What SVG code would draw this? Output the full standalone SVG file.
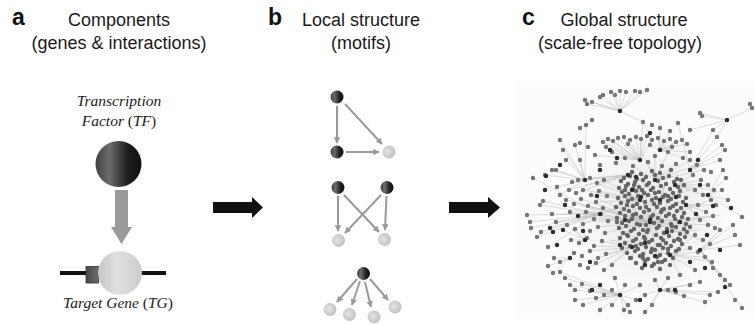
<svg xmlns="http://www.w3.org/2000/svg" width="755" height="325" viewBox="0 0 755 325">
  <style>
    .title { font-family: "Liberation Sans", Arial, Helvetica, sans-serif; font-size: 18px; fill: #1a1a1a; }
    .letter { font-family: "Liberation Sans", Arial, Helvetica, sans-serif; font-size: 23px; font-weight: bold; fill: #111; }
    .lbl { font-family: "Liberation Serif", "Times New Roman", serif; font-size: 15.5px; font-style: italic; fill: #1a1a1a; }
    .up { font-style: normal; }
    .motif-edge { stroke: #9a9a9a; stroke-width: 2; fill: none; marker-end: url(#tip); }
    .big-arrow { fill: #111; }
    .net-edge { stroke: #b8b8b8; stroke-width: 0.6; fill: none; opacity: 0.8; }
    .net-dot { stroke: #767676; stroke-width: 4.4; stroke-linecap: round; fill: none; }
    .net-core { stroke: #666; stroke-width: 4.4; stroke-linecap: round; fill: none; }
    .net-hub { stroke: #2e2e2e; stroke-width: 4.5; stroke-linecap: round; fill: none; }
  </style>
  <defs>
    <linearGradient id="darkSphere" x1="0" y1="0" x2="1" y2="0">
      <stop offset="0" stop-color="#404040"/>
      <stop offset="0.3" stop-color="#6c6c6c"/>
      <stop offset="0.7" stop-color="#1e1e1e"/>
      <stop offset="1" stop-color="#101010"/>
    </linearGradient>
    <radialGradient id="lightSphere" cx="0.4" cy="0.45" r="0.65">
      <stop offset="0" stop-color="#e4e4e4"/>
      <stop offset="1" stop-color="#bdbdbd"/>
    </radialGradient>
    <linearGradient id="geneSphere" x1="0" y1="0" x2="1" y2="0">
      <stop offset="0" stop-color="#c6c6c6"/>
      <stop offset="0.45" stop-color="#e0e0e0"/>
      <stop offset="1" stop-color="#cbcbcb"/>
    </linearGradient>
    <linearGradient id="siteBox" x1="0" y1="0" x2="1" y2="0">
      <stop offset="0" stop-color="#4a4a4a"/>
      <stop offset="1" stop-color="#6a6a6a"/>
    </linearGradient>
    <radialGradient id="coreHaze" cx="0.5" cy="0.5" r="0.5">
      <stop offset="0" stop-color="#d0d0d0" stop-opacity="0.55"/>
      <stop offset="1" stop-color="#d0d0d0" stop-opacity="0"/>
    </radialGradient>
    <marker id="tip" viewBox="0 0 10 10" refX="9" refY="5" markerWidth="3.2" markerHeight="3.2" orient="auto" markerUnits="strokeWidth">
      <path d="M0 0L10 5L0 10z" fill="#9a9a9a"/>
    </marker>
    <filter id="soft" x="-5%" y="-5%" width="110%" height="110%">
      <feGaussianBlur stdDeviation="0.45"/>
    </filter>
  </defs>

  <rect width="755" height="325" fill="#fff"/>

  <!-- headings -->
  <g id="headings">
    <text class="letter" x="12" y="25">a</text>
    <text class="title" x="119" y="26" text-anchor="middle">Components</text>
    <text class="title" x="119" y="49" text-anchor="middle">(genes &amp; interactions)</text>
    <text class="letter" x="268" y="25">b</text>
    <text class="title" x="361" y="26" text-anchor="middle">Local structure</text>
    <text class="title" x="361" y="49" text-anchor="middle">(motifs)</text>
    <text class="letter" x="522" y="25">c</text>
    <text class="title" x="624" y="26" text-anchor="middle">Global structure</text>
    <text class="title" x="620" y="49" text-anchor="middle">(scale-free topology)</text>
  </g>

  <!-- panel a: transcription factor regulating a target gene -->
  <g id="tf">
    <text class="lbl" x="119" y="106" text-anchor="middle">Transcription</text>
    <text class="lbl" x="119" y="126" text-anchor="middle">Factor <tspan class="up">(</tspan>TF<tspan class="up">)</tspan></text>
    <circle cx="118.5" cy="164" r="23" fill="url(#darkSphere)"/>
  </g>
  <g id="tg">
    <line x1="60" y1="273" x2="166" y2="273" stroke="#111" stroke-width="4"/>
    <rect x="86" y="266.5" width="12.5" height="16.5" fill="url(#siteBox)" stroke="#333" stroke-width="0.8"/>
    <circle cx="120" cy="273" r="22" fill="url(#geneSphere)"/>
    <text class="lbl" x="118" y="308" text-anchor="middle">Target Gene <tspan class="up">(</tspan>TG<tspan class="up">)</tspan></text>
  </g>

  <!-- panel b: motif nodes -->
  <g id="ffl-top"><circle cx="337" cy="97" r="6.5" fill="url(#darkSphere)"/></g>
  <g id="ffl-mid"><circle cx="337" cy="152" r="6.5" fill="url(#darkSphere)"/></g>
  <g id="ffl-out"><circle cx="389" cy="152" r="6.5" fill="url(#lightSphere)"/></g>
  <g id="bifan-a"><circle cx="338" cy="187.5" r="6.5" fill="url(#darkSphere)"/></g>
  <g id="bifan-b"><circle cx="387" cy="187.5" r="6.5" fill="url(#darkSphere)"/></g>
  <g id="bifan-c"><circle cx="338.5" cy="240.5" r="6.5" fill="url(#lightSphere)"/></g>
  <g id="bifan-d"><circle cx="384.5" cy="239.5" r="6.5" fill="url(#lightSphere)"/></g>
  <g id="sim-hub"><circle cx="363.5" cy="273.5" r="6.5" fill="url(#darkSphere)"/></g>
  <g id="sim-1"><circle cx="330" cy="309.5" r="6.5" fill="url(#lightSphere)"/></g>
  <g id="sim-2"><circle cx="349.5" cy="314.5" r="6.5" fill="url(#lightSphere)"/></g>
  <g id="sim-3"><circle cx="374" cy="317" r="6.5" fill="url(#lightSphere)"/></g>
  <g id="sim-4"><circle cx="395" cy="307" r="6.5" fill="url(#lightSphere)"/></g>

  <!-- connectors -->
  <g id="connectors">
    <!-- TF regulates TG -->
    <path d="M115 190H128V227H132L121.5 244L111 227H115Z" fill="#9a9a9a"/>
    <!-- feed-forward loop -->
    <line class="motif-edge" x1="337" y1="106" x2="337" y2="143"/>
    <line class="motif-edge" x1="345" y1="104" x2="382" y2="144"/>
    <line class="motif-edge" x1="346" y1="152" x2="379" y2="152"/>
    <!-- bi-fan -->
    <line class="motif-edge" x1="338" y1="196" x2="338" y2="231"/>
    <line class="motif-edge" x1="386.5" y1="196" x2="385" y2="230"/>
    <line class="motif-edge" x1="344" y1="195" x2="379" y2="232"/>
    <line class="motif-edge" x1="381" y1="195" x2="345" y2="233"/>
    <!-- single input module -->
    <line class="motif-edge" x1="357" y1="279" x2="337" y2="302"/>
    <line class="motif-edge" x1="360" y1="281" x2="352" y2="305"/>
    <line class="motif-edge" x1="365" y1="282" x2="371" y2="307"/>
    <line class="motif-edge" x1="370" y1="279" x2="388" y2="300"/>
    <!-- step arrows between panels -->
    <path class="big-arrow" d="M213 202H252V197L263 207.5L252 218V213H213Z"/>
    <path class="big-arrow" d="M449 202H488V197L500 207.5L488 218V213H449Z"/>
  </g>

  <!-- panel c: genome-scale regulatory network -->
  <g id="network">
    <rect x="515" y="86" width="240" height="232" fill="#fcfcfc"/>
    <ellipse cx="650" cy="215" rx="80" ry="85" fill="url(#coreHaze)"/>
    <g filter="url(#soft)">
      <path class="net-edge" d="
        M620 111L585 100M620 111L587 104M620 111L592 102M620 111L600 97M620 111L603 95M620 111L611 92M620 111L615 95M620 111L620 91M620 111L626 92M620 111L635 91M620 111L640 92M620 111L647 90
        M620 111L643 122L652 140M643 122L640 160
        M727 120L700 113M727 120L752 108M727 120L713 130M727 120L717 137M727 120L690 130M727 120L702 116M752 108L750 104
        M585 180L545 175M585 180L552 170M585 180L556 170M585 180L560 140M585 180L563 150M585 180L575 145M585 180L566 160M585 180L580 160M585 180L557 187M585 180L560 195M585 180L586 125L580 128M586 125L592 120
        M600 214L527 215M600 214L530 222M600 214L531 228M600 214L533 178M600 214L540 205M600 214L543 201M600 214L537 237M600 214L552 214M600 214L556 222M600 214L548 228M600 214L541 232M600 214L548 247
        M640 160L603 142M640 160L608 139M640 160L613 141M640 160L618 138M640 160L624 137M640 160L630 140M640 160L636 137M640 160L641 139M640 160L647 136M640 160L652 140M640 160L606 147M640 160L628 144M640 160L595 155M640 160L612 152M640 160L625 158
        M660 150L658 138M660 150L664 141M660 150L670 139M660 150L676 142M660 150L682 140M660 150L687 144M660 150L650 145M660 150L672 147M660 150L668 152M660 150L683 158M660 150L690 152M660 150L660 128M660 150L670 131
        M690 170L722 145M690 170L725 150M690 170L720 160M690 170L717 137M690 170L713 130M690 170L678 123
        M708 195L723 170M708 195L726 178M708 195L722 190M708 195L728 200M708 195L742 217
        M700 250L733 225M700 250L740 245M700 250L720 230M700 250L735 235M700 250L713 268M700 250L720 275M700 250L725 280M700 250L742 308M700 250L730 285
        M660 290L645 295M660 290L652 305M660 290L668 290M660 290L676 292M660 290L684 296M660 290L690 285M660 290L655 280M660 290L668 278M660 290L645 312M660 290L700 282M660 290L718 292M660 290L710 295M660 290L705 302
        M620 295L560 272M620 295L565 278M620 295L570 285M620 295L575 290M620 295L582 284M620 295L590 291M620 295L596 298M620 295L604 295M620 295L612 290M620 295L628 305M620 295L636 300M620 295L600 310M620 295L612 305M620 295L624 310M620 295L630 312M620 295L575 300M620 295L583 305M620 295L640 285M620 295L625 285M620 295L615 278
        M570 258L548 266M570 258L553 273M570 258L554 258M570 258L560 262
        M650 222L621 181M650 222L643 180M650 222L666 184M650 222L684 185M650 222L618 198M650 222L686 198M650 222L616 207M650 222L688 219M650 222L619 228M650 222L690 227M650 222L623 233M650 222L687 232M650 222L625 243M650 222L682 244M650 222L631 258M650 222L673 258M650 222L642 268M650 222L660 269M650 222L632 172M650 222L671 170M650 222L590 195M650 222L605 233M650 222L603 208M650 222L598 227M650 222L711 200M650 222L713 216M650 222L708 225M650 222L703 240
        M640 200L608 221M640 200L601 214M640 200L597 183M640 200L604 180M640 200L599 191M640 200L596 202M640 200L583 190M640 200L591 195
        M655 180L640 150M655 180L655 156M655 180L668 152M655 180L633 166M655 180L648 162M655 180L662 166M655 180L676 164M655 180L690 160M655 180L697 165M655 180L704 170
        M632 247L594 246M632 247L602 241M632 247L598 258M632 247L606 254M632 247L590 251M632 247L604 270M632 247L612 265M632 247L588 268
        M670 255L690 248M670 255L698 252M670 255L705 257M670 255L712 262M670 255L695 235M670 255L695 270M670 255L680 275
        M585 240L571 240M585 240L579 243M585 240L567 225M585 240L575 229M585 240L583 224M585 240L563 230
        M675 185L693 175M675 185L701 180M675 185L708 185M675 185L714 190M675 185L695 190M675 185L703 195
        M628 175L572 182M628 175L578 180M628 175L585 185M628 175L590 178M628 175L569 190M628 175L576 193
        M686 205L698 205M686 205L706 212M686 205L700 220M686 205L715 228M686 205L716 205
        M650 222L566 200M650 222L574 204M650 222L581 199M650 222L588 206M650 222L570 212M650 222L578 216M650 222L586 212M650 222L594 219
        M660 200L625 185M660 200L690 190M660 200L632 210M645 243L610 240M645 243L680 262M667 232L700 230M625 220L585 222M680 222L720 215
      "/>
      <path class="net-dot" d="
        M585 100h0M587 104h0M592 102h0M600 97h0M603 95h0M611 92h0M615 95h0M620 91h0M626 92h0M635 91h0M640 92h0M647 90h0
        M643 122h0M652 125h0M660 128h0M670 131h0M678 123h0M690 130h0M700 113h0M702 116h0M713 130h0M717 137h0M752 108h0M750 104h0
        M722 145h0M725 150h0M720 160h0M723 170h0M726 178h0M722 190h0M728 200h0M742 217h0M733 225h0M740 245h0M720 230h0M735 235h0
        M713 268h0M720 275h0M725 280h0M730 285h0M718 292h0M710 295h0M705 302h0M742 308h0M735 300h0M700 282h0
        M560 272h0M565 278h0M570 285h0M575 290h0M582 284h0M590 291h0M596 298h0M604 295h0M612 290h0M628 305h0M636 300h0M645 295h0M652 305h0M668 290h0M676 292h0M684 296h0M690 285h0M640 285h0M625 285h0M615 278h0M655 280h0M668 278h0M680 275h0M695 270h0M548 266h0M553 273h0M575 300h0M583 305h0M600 310h0M612 305h0M624 310h0M630 312h0M645 312h0
        M527 215h0M530 222h0M531 228h0M533 178h0M540 205h0M543 201h0M537 237h0M545 175h0M552 170h0M556 170h0M548 247h0M554 258h0M560 262h0M557 187h0M560 195h0M552 214h0M556 222h0M541 232h0
        M560 140h0M563 150h0M575 145h0M580 143h0M566 160h0M580 160h0M588 147h0M586 125h0M580 128h0M592 120h0
        M603 142h0M608 139h0M613 141h0M618 138h0M624 137h0M630 140h0M636 137h0M641 139h0M647 136h0M652 140h0M658 138h0M664 141h0M670 139h0M676 142h0M682 140h0M687 144h0M606 147h0M628 144h0M650 145h0M672 147h0
        M595 155h0M612 152h0M625 158h0M655 156h0M668 152h0M683 158h0M600 165h0M616 163h0M633 166h0M648 162h0M662 166h0M676 164h0M690 152h0
        M572 182h0M578 180h0M590 178h0M597 183h0M604 180h0M569 190h0M576 193h0M583 190h0M591 195h0M599 191h0M607 196h0M566 200h0M574 204h0M581 199h0M588 206h0M596 202h0M603 208h0M570 212h0M586 212h0M594 219h0M601 214h0M608 221h0M567 225h0M575 229h0M583 224h0M590 231h0M598 227h0M605 233h0M571 240h0M579 243h0M587 238h0M594 246h0M602 241h0M574 253h0M582 256h0M590 251h0M598 258h0M606 254h0M580 265h0M588 268h0M596 263h0M604 270h0M612 265h0
        M690 160h0M697 165h0M704 170h0M711 172h0M693 175h0M701 180h0M708 185h0M714 190h0M695 190h0M703 195h0M711 200h0M716 205h0M698 205h0M706 212h0M713 216h0M700 220h0M708 225h0M715 228h0M695 235h0M703 240h0M710 244h0M690 248h0M698 252h0M705 257h0M712 262h0
      "/>
      <path class="net-core" d="
        M632 172h0M641 174h0M652 171h0M660 173h0M671 170h0
        M624 178h0M630 176h0M637 179h0M646 177h0M655 175h0M663 178h0M669 176h0M677 179h0
        M621 181h0M628 184h0M635 182h0M643 180h0M649 183h0M658 181h0M666 184h0M674 182h0M681 180h0
        M619 188h0M626 186h0M633 189h0M639 187h0M647 185h0M653 188h0M661 186h0M670 189h0M678 187h0M684 185h0
        M622 192h0M629 194h0M636 191h0M644 193h0M651 190h0M659 192h0M665 195h0M673 193h0M680 191h0
        M618 198h0M625 196h0M632 199h0M648 195h0M656 198h0M663 197h0M671 199h0M679 196h0M686 198h0
        M621 203h0M628 201h0M637 204h0M645 202h0M652 200h0M660 203h0M668 201h0M676 204h0M683 202h0
        M616 207h0M624 209h0M633 206h0M640 208h0M649 210h0M657 207h0M664 209h0M673 206h0M681 208h0
        M620 213h0M629 211h0M636 214h0M644 212h0M653 215h0M661 212h0M669 214h0M677 211h0M684 213h0
        M617 218h0M625 216h0M632 219h0M641 217h0M658 218h0M666 216h0M675 219h0M682 217h0M688 219h0
        M622 223h0M629 221h0M637 224h0M646 225h0M654 223h0M662 221h0M671 224h0M679 222h0M686 224h0
        M619 228h0M626 226h0M634 229h0M643 230h0M659 226h0M667 229h0M676 227h0M684 229h0M690 227h0
        M623 233h0M631 231h0M639 234h0M647 232h0M656 235h0M664 233h0M672 231h0M680 234h0M687 232h0
        M620 238h0M628 236h0M636 239h0M644 237h0M652 240h0M661 238h0M669 236h0M678 239h0M685 237h0
        M625 243h0M633 241h0M641 244h0M649 242h0M658 245h0M666 243h0M674 241h0M682 244h0
        M622 248h0M630 246h0M638 249h0M646 247h0M655 250h0M663 248h0M671 246h0M679 249h0
        M627 253h0M635 251h0M643 254h0M651 252h0M660 255h0M668 253h0M676 251h0
        M631 258h0M640 256h0M648 259h0M657 257h0M665 260h0M673 258h0
        M636 263h0M645 261h0M654 264h0M662 262h0M670 265h0
        M642 268h0M652 266h0M660 269h0
        M634 185h0M642 190h0M655 193h0M668 196h0M627 205h0M646 207h0M662 210h0M633 215h0M651 217h0M674 216h0M640 225h0M657 228h0M672 226h0M627 235h0M645 239h0M663 240h0M636 246h0M652 249h0M668 249h0M643 258h0M658 262h0M680 240h0M617 222h0M625 190h0M660 245h0M648 230h0M670 208h0M638 196h0M654 204h0M630 258h0
      "/>
      <path class="net-hub" d="
        M620 111h0M727 120h0M585 180h0M600 214h0M640 160h0M660 150h0M690 170h0M708 195h0M700 250h0M660 290h0M620 295h0M570 258h0
        M650 222h0M640 200h0M655 180h0M632 247h0M670 255h0M585 240h0M675 185h0M628 175h0M686 205h0
        M546 176h0M550 228h0M553 232h0M578 216h0M617 158h0M707 235h0M690 262h0M600 285h0M563 230h0M645 265h0M705 268h0M641 197h0M650 220h0
        M632 190h0M660 200h0M645 243h0M667 232h0M625 220h0M680 222h0M636 177h0M676 197h0M655 256h0M620 245h0M597 196h0M583 231h0M590 262h0M696 214h0M700 185h0M713 206h0M600 170h0M610 150h0M650 133h0M698 160h0M565 205h0M557 245h0M592 290h0M640 300h0M675 290h0M725 287h0M720 250h0M731 208h0M545 190h0M560 165h0
      "/>
    </g>
  </g>
</svg>
